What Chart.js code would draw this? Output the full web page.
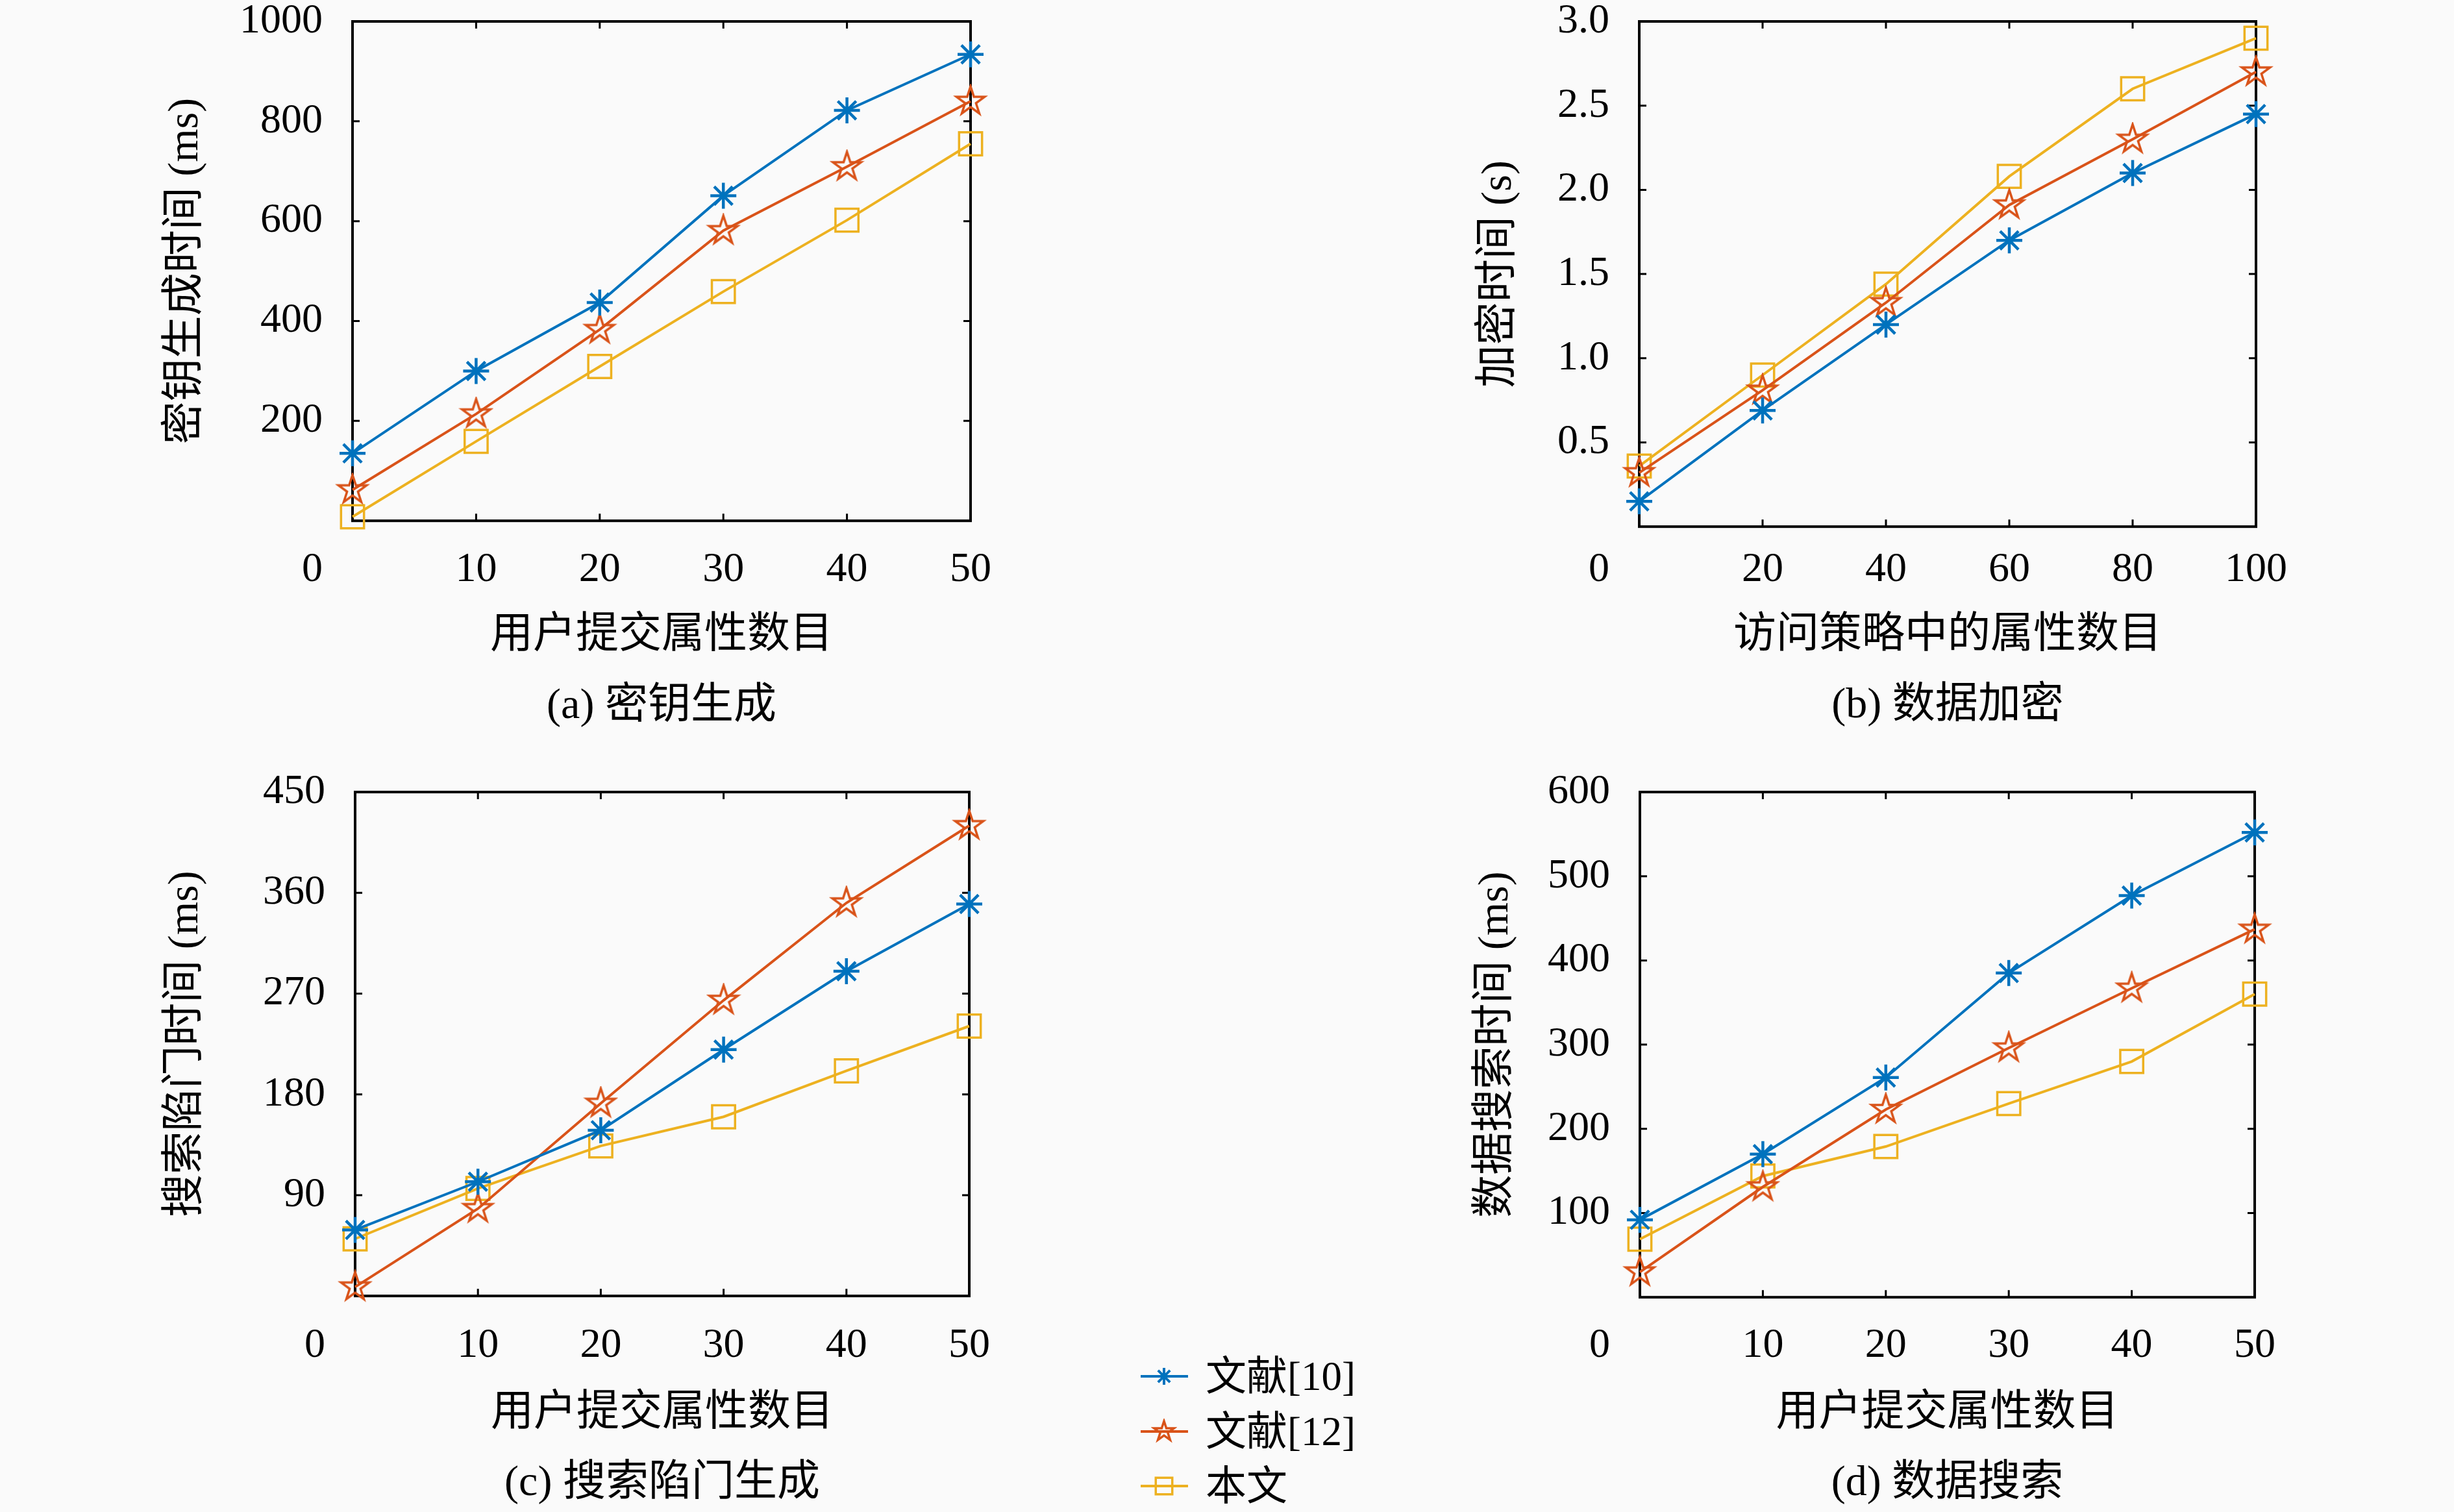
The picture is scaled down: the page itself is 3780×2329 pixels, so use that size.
<!DOCTYPE html>
<html>
<head>
<meta charset="utf-8">
<script src="https://cdn.jsdelivr.net/npm/chart.js@4.4.1/dist/chart.umd.min.js"></script>
<style>
  body { margin: 0; background: #fafafa; width: 3780px; height: 2329px; position: relative; overflow: hidden; }
  canvas.panel { position: absolute; }
  #legend { position: absolute; left: 1750px; top: 2078px; }
  #legend .row { display: flex; align-items: center; height: 84.5px; }
  #legend span { margin-left: 17px; font: 63px "Liberation Serif", "Noto Sans CJK SC", serif; color: #000; line-height: 84px; white-space: nowrap; }
</style>
</head>
<body>
<canvas id="pa" class="panel" width="1600" height="1165" style="left:0;top:0"></canvas>
<canvas id="pb" class="panel" width="1530" height="1165" style="left:2250px;top:0"></canvas>
<canvas id="pc" class="panel" width="1600" height="1164" style="left:0;top:1165px"></canvas>
<canvas id="pd" class="panel" width="1530" height="1164" style="left:2250px;top:1165px"></canvas>
<div id="legend"></div>
<script>
// ---- data ----
const seriesNames = ['文献[10]', '文献[12]', '本文'];

const attrUser = [0, 10, 20, 30, 40, 50];     // 用户提交属性数目
const attrPolicy = [0, 20, 40, 60, 80, 100];  // 访问策略中的属性数目

// (a) 密钥生成 (ms)
const keyGen10 = [135, 300, 437, 651, 822, 934];
const keyGen12 = [62, 214, 383, 581, 709, 840];
const keyGenOurs = [8, 159, 309, 459, 602, 755];

// (b) 数据加密 (s)
const enc10 = [0.15, 0.69, 1.20, 1.70, 2.10, 2.45];
const enc12 = [0.32, 0.81, 1.33, 1.91, 2.30, 2.70];
const encOurs = [0.36, 0.90, 1.44, 2.08, 2.60, 2.90];

// (c) 搜索陷门生成 (ms)
const trap10 = [59, 102, 148, 220, 290, 350];
const trap12 = [8, 78, 172, 264, 351, 420];
const trapOurs = [51, 96, 134, 160, 201, 241];

// (d) 数据搜索 (ms)
const search10 = [92, 170, 261, 385, 477, 552];
const search12 = [30, 131, 223, 296, 367, 437];
const searchOurs = [69, 144, 179, 230, 280, 360];

const xTicksUser = [10, 20, 30, 40, 50];
const xTicksPolicy = [20, 40, 60, 80, 100];

// ---- style ----
const FONT = '"Liberation Serif", "Noto Sans CJK SC", serif';
const FS = 64;   // tick labels
const TS = 66;   // axis titles and captions
const C10 = '#0072BD', C12 = '#D95319', COURS = '#EDB120';
const TICK = 11;

function makePentagram(r, color, lw) {
  const size = Math.ceil(2 * r + lw + 4);
  const c = document.createElement('canvas');
  c.width = c.height = size;
  const g = c.getContext('2d');
  g.strokeStyle = color;
  g.lineWidth = lw;
  g.beginPath();
  for (let i = 0; i < 10; i++) {
    const rr = i % 2 ? r * 0.382 : r;
    const a = -Math.PI / 2 + i * Math.PI / 5;
    const px = size / 2 + rr * Math.cos(a), py = size / 2 + rr * Math.sin(a);
    if (i === 0) g.moveTo(px, py); else g.lineTo(px, py);
  }
  g.closePath();
  g.stroke();
  return c;
}
const starBig = makePentagram(23, C12, 3.5);
const starSmall = makePentagram(16, C12, 3.5);

function ds(label, xs, ys, color, style, r, pw) {
  return {
    label: label,
    data: xs.map((x, i) => ({ x: x, y: ys[i] })),
    borderColor: color,
    backgroundColor: 'transparent',
    borderWidth: 4,
    pointStyle: style,
    pointRadius: r,
    pointHoverRadius: r,
    pointBorderColor: color,
    pointBackgroundColor: 'rgba(0,0,0,0)',
    pointBorderWidth: pw,
    tension: 0,
    clip: false
  };
}

const frame = {
  id: 'frame',
  beforeDatasetsDraw(chart) {
    const ctx = chart.ctx, a = chart.chartArea;
    const x = chart.scales.x, y = chart.scales.y;
    ctx.save();
    ctx.strokeStyle = '#000';
    ctx.lineWidth = 3;
    ctx.beginPath();
    x.ticks.forEach(t => {
      const px = x.getPixelForValue(t.value);
      if (px > a.left + 2 && px < a.right - 2) {
        ctx.moveTo(px, a.bottom); ctx.lineTo(px, a.bottom - TICK);
        ctx.moveTo(px, a.top); ctx.lineTo(px, a.top + TICK);
      }
    });
    y.ticks.forEach(t => {
      const py = y.getPixelForValue(t.value);
      if (py > a.top + 2 && py < a.bottom - 2) {
        ctx.moveTo(a.left, py); ctx.lineTo(a.left + TICK, py);
        ctx.moveTo(a.right, py); ctx.lineTo(a.right - TICK, py);
      }
    });
    ctx.stroke();
    ctx.lineWidth = 4;
    ctx.strokeRect(a.left, a.top, a.right - a.left, a.bottom - a.top);
    // shared origin label
    ctx.fillStyle = '#000';
    ctx.font = FS + 'px ' + FONT;
    ctx.textAlign = 'center';
    ctx.textBaseline = 'middle';
    ctx.fillText('0', a.left - 62, x.top + x.options.ticks.padding + FS * 0.6);
    ctx.restore();
  }
};

function panel(id, p) {
  const font = { family: FONT, size: FS, lineHeight: 1.2, weight: 'normal' };
  const tfont = { family: FONT, size: TS, lineHeight: 1.2, weight: 'normal' };
  return new Chart(document.getElementById(id), {
    type: 'line',
    data: {
      datasets: [
        ds(seriesNames[0], p.xs, p.ys[0], C10, 'star', 20, 4.5),
        ds(seriesNames[1], p.xs, p.ys[1], C12, starBig, 23, 3.5),
        ds(seriesNames[2], p.xs, p.ys[2], COURS, 'rect', 25, 3.5)
      ]
    },
    options: {
      responsive: false,
      animation: false,
      events: [],
      layout: { padding: { left: p.padL - 1, right: p.padR, top: p.padT, bottom: p.padB - 8 } },
      plugins: {
        legend: { display: false },
        tooltip: { enabled: false },
        title: {
          display: true, text: p.caption, position: 'bottom', fullSize: false,
          color: '#000', font: tfont, padding: 0
        }
      },
      scales: {
        x: {
          type: 'linear', min: 0, max: p.xMax,
          afterFit: s => { s.height = p.xH + 6.4; s.paddingLeft = 0; s.paddingRight = 0; },
          afterBuildTicks: s => { s.ticks = [0].concat(p.xTicks).map(v => ({ value: v })); },
          grid: { display: false, drawTicks: false },
          border: { display: false },
          ticks: {
            autoSkip: false, maxRotation: 0, padding: p.tickPad + 4, color: '#000', font: font,
            callback: v => v === 0 ? '' : String(v)
          },
          title: { display: true, text: p.xTitle, color: '#000', font: tfont, padding: { top: 0, bottom: p.xTitlePad } }
        },
        y: {
          min: 0, max: p.yMax,
          afterFit: s => { s.width = p.yW + 1; s.paddingTop = 0; s.paddingBottom = 0; },
          grid: { display: false, drawTicks: false },
          border: { display: false },
          ticks: {
            stepSize: p.yStep, autoSkip: false, padding: 46, color: '#000', font: font,
            callback: v => v === 0 ? '' : (p.dec ? v.toFixed(1) : String(v))
          },
          title: { display: true, text: p.yTitle, color: '#000', font: tfont, padding: { top: 0, bottom: 46 } }
        }
      }
    },
    plugins: [frame]
  });
}

panel('pa', {
  xs: attrUser, ys: [keyGen10, keyGen12, keyGenOurs], xMax: 50, xTicks: xTicksUser,
  yMax: 1000, yStep: 200, dec: false,
  xTitle: '用户提交属性数目', yTitle: '密钥生成时间 (ms)', caption: '(a) 密钥生成',
  padL: 247.6, yW: 295.4, padR: 105, padT: 33, padB: 44.6, xH: 240.6, xTitlePad: 30.2, tickPad: 33.6
});
panel('pb', {
  xs: attrPolicy, ys: [enc10, enc12, encOurs], xMax: 100, xTicks: xTicksPolicy,
  yMax: 3, yStep: 0.5, dec: true,
  xTitle: '访问策略中的属性数目', yTitle: '加密时间 (s)', caption: '(b) 数据加密',
  padL: 20.6, yW: 254.4, padR: 305, padT: 33, padB: 45.6, xH: 230.6, xTitlePad: 29.2, tickPad: 24.6
});
panel('pc', {
  xs: attrUser, ys: [trap10, trap12, trapOurs], xMax: 50, xTicks: xTicksUser,
  yMax: 450, yStep: 90, dec: false,
  xTitle: '用户提交属性数目', yTitle: '搜索陷门时间 (ms)', caption: '(c) 搜索陷门生成',
  padL: 247.6, yW: 299.4, padR: 107, padT: 55, padB: 11.6, xH: 243.6, xTitlePad: 29.2, tickPad: 34.6
});
panel('pd', {
  xs: attrUser, ys: [search10, search12, searchOurs], xMax: 50, xTicks: xTicksUser,
  yMax: 600, yStep: 100, dec: false,
  xTitle: '用户提交属性数目', yTitle: '数据搜索时间 (ms)', caption: '(d) 数据搜索',
  padL: 15.6, yW: 260.4, padR: 307, padT: 55, padB: 11.6, xH: 241.6, xTitlePad: 29.2, tickPad: 32.6
});

// ---- shared legend ----
const legendMarks = [
  { color: C10, style: 'star', r: 13, w: 4 },
  { color: C12, style: starSmall, r: 16, w: 3.5 },
  { color: COURS, style: 'rect', r: 18, w: 3.5 }
];
const legend = document.getElementById('legend');
seriesNames.forEach((name, i) => {
  const row = document.createElement('div');
  row.className = 'row';
  const c = document.createElement('canvas');
  c.width = 90; c.height = 84;
  const g = c.getContext('2d');
  const m = legendMarks[i];
  g.strokeStyle = m.color;
  g.fillStyle = 'rgba(0,0,0,0)';
  g.lineWidth = 4;
  g.beginPath(); g.moveTo(7, 42); g.lineTo(80, 42); g.stroke();
  g.lineWidth = m.w;
  Chart.helpers.drawPoint(g, { pointStyle: m.style, radius: m.r, borderWidth: m.w, rotation: 0 }, 43, 42);
  const s = document.createElement('span');
  s.textContent = name;
  row.appendChild(c);
  row.appendChild(s);
  legend.appendChild(row);
});
</script>
</body>
</html>
